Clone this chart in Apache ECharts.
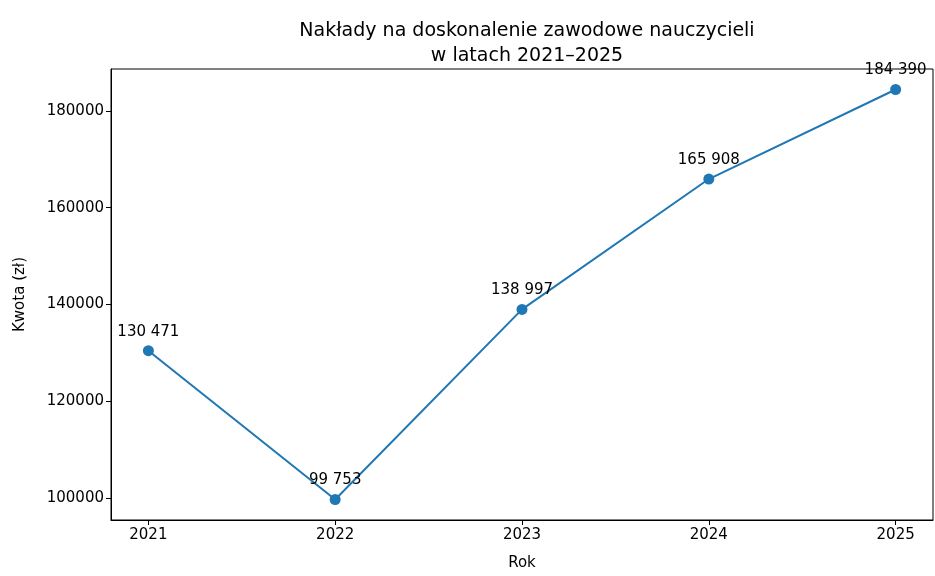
<!DOCTYPE html>
<html>
<head>
<meta charset="utf-8">
<script src="https://cdn.jsdelivr.net/npm/echarts@6/dist/echarts.min.js"></script>
<style>
  html, body { margin: 0; padding: 0; background: #fff; }
  #main { width: 935px; height: 576px; }
</style>
</head>
<body>
<div id="main"></div>
<script>
// dane
var years = [2021, 2022, 2023, 2024, 2025];
var amounts = [130471, 99753, 138997, 165908, 184390];
var yTicks = [100000, 120000, 140000, 160000, 180000];

var font = 'DejaVu Sans';

function fmt(v) {
  return String(v).replace(/\B(?=(\d{3})+(?!\d))/g, ' ');
}

// zakres osi jak w matplotlib (margines 5%)
var yMinD = Math.min.apply(null, amounts), yMaxD = Math.max.apply(null, amounts);
var pad = (yMaxD - yMinD) * 0.05;
var xPad = (years[years.length - 1] - years[0]) * 0.05;

var chart = echarts.init(document.getElementById('main'));

var option = {
  backgroundColor: '#ffffff',
  animation: false,
  title: {
    text: 'Nakłady na doskonalenie zawodowe nauczycieli\nw latach 2021–2025',
    left: 522,
    top: 14,
    textAlign: 'center',
    textStyle: { fontFamily: font, fontSize: 19, fontWeight: 'normal', color: '#000', lineHeight: 25 }
  },
  grid: {
    left: 111, right: 2, top: 69, bottom: 55,
    show: true, borderColor: '#000', borderWidth: 1, backgroundColor: 'transparent'
  },
  xAxis: {
    type: 'value',
    min: years[0] - xPad,
    max: years[years.length - 1] + xPad,
    name: 'Rok',
    nameLocation: 'middle',
    nameGap: 36,
    nameTextStyle: { fontFamily: font, fontSize: 15, color: '#000' },
    splitLine: { show: false },
    axisLine: { show: true, onZero: false, lineStyle: { color: '#000', width: 1 } },
    axisTick: { show: true, customValues: years, length: 5, inside: false, lineStyle: { color: '#000' } },
    axisLabel: {
      customValues: years, fontFamily: font, fontSize: 15, color: '#000', margin: 8,
      formatter: function (v) { return String(v); }
    }
  },
  yAxis: {
    type: 'value',
    min: yMinD - pad,
    max: yMaxD + pad,
    name: 'Kwota (zł)',
    nameLocation: 'middle',
    nameGap: 83,
    nameTextStyle: { fontFamily: font, fontSize: 15, color: '#000' },
    splitLine: { show: false },
    axisLine: { show: true, lineStyle: { color: '#000', width: 1 } },
    axisTick: { show: true, customValues: yTicks, length: 5, lineStyle: { color: '#000' } },
    axisLabel: {
      customValues: yTicks, fontFamily: font, fontSize: 15, color: '#000', margin: 7,
      formatter: function (v) { return String(v); }
    }
  },
  series: [{
    type: 'line',
    data: years.map(function (y, i) { return [y, amounts[i]]; }),
    symbol: 'circle',
    symbolSize: 11,
    itemStyle: { color: '#1f77b4' },
    lineStyle: { color: '#1f77b4', width: 2 },
    label: {
      show: true,
      position: 'top',
      distance: 6,
      fontFamily: font,
      fontSize: 15,
      color: '#000',
      formatter: function (p) { return fmt(p.value[1]); }
    }
  }]
};

chart.setOption(option);
</script>
</body>
</html>
